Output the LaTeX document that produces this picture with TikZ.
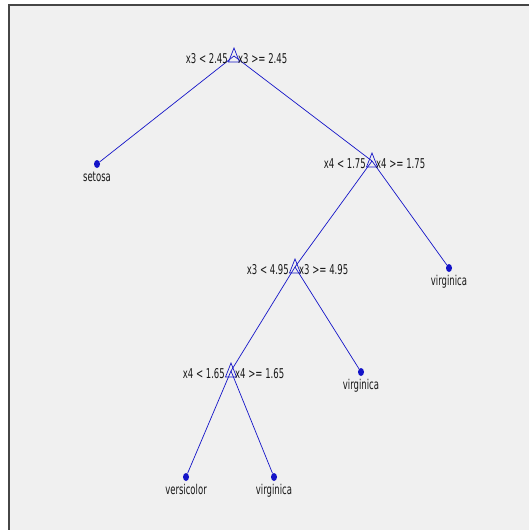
\documentclass[tikz,border=0pt]{standalone}
\usepackage{fontspec}
\setmainfont{DejaVu Sans}[FakeStretch=0.63]
\usetikzlibrary{calc,shapes.geometric}
\definecolor{edgeblue}{RGB}{20,20,200}
\definecolor{txt}{RGB}{25,25,25}
\definecolor{bgg}{RGB}{240,240,240}
\definecolor{framec}{RGB}{70,70,70}
\begin{document}
\begin{tikzpicture}[x=1pt,y=-1pt,
  lbl/.style={font=\fontsize{13.5}{15}\selectfont, text=txt, inner sep=0pt},
  edge/.style={draw=edgeblue, line width=0.7pt},
  leafdot/.style={ellipse, fill=edgeblue, draw=none, minimum width=6pt, minimum height=8pt, inner sep=0pt},
  tri/.style={draw=edgeblue, line width=0.7pt, line join=miter}]
\useasboundingbox (0,0) rectangle (529,530);
\fill[white] (0,0) rectangle (529,530);
\fill[bgg] (9,5) rectangle (529,530);
\draw[framec, line width=1.4pt] (9,530) -- (9,5) -- (529,5);
% internal nodes
\coordinate (n1) at (234,56);
\coordinate (n2) at (372,161);
\coordinate (n3) at (295,267);
\coordinate (n4) at (231,371);
% leaves
\node[leafdot] (l1) at (97,164) {};
\node[leafdot] (l2) at (449,268) {};
\node[leafdot] (l3) at (361,372) {};
\node[leafdot] (l4) at (186,477) {};
\node[leafdot] (l5) at (274,477) {};
% edges
\draw[edge] (n1) -- (l1);
\draw[edge] (n1) -- (n2);
\draw[edge] (n2) -- (n3);
\draw[edge] (n2) -- (l2);
\draw[edge] (n3) -- (n4);
\draw[edge] (n3) -- (l3);
\draw[edge] (n4) -- (l4);
\draw[edge] (n4) -- (l5);
% triangles
\foreach \n in {n1,n2,n3,n4}{
  \draw[tri] ($(\n)+(0,-8)$) -- ($(\n)+(5.5,6)$) -- ($(\n)+(-5.5,6)$) -- cycle;
}
% split labels
\node[lbl, anchor=east] (t1a) at ($(n1)+(-6,3)$) {x3 < 2.45};
\node[lbl, anchor=west] (t1b) at ($(n1)+(4,3)$) {x3 >= 2.45};
\node[lbl, anchor=east] (t2a) at ($(n2)+(-6,3)$) {x4 < 1.75};
\node[lbl, anchor=west] (t2b) at ($(n2)+(4,3)$) {x4 >= 1.75};
\node[lbl, anchor=east] (t3a) at ($(n3)+(-6,3)$) {x3 < 4.95};
\node[lbl, anchor=west] (t3b) at ($(n3)+(4,3)$) {x3 >= 4.95};
\node[lbl, anchor=east] (t4a) at ($(n4)+(-6,3)$) {x4 < 1.65};
\node[lbl, anchor=west] (t4b) at ($(n4)+(4,3)$) {x4 >= 1.65};
% leaf labels
\node[lbl, anchor=base] (c1) at ($(l1)+(0,17)$) {setosa};
\node[lbl, anchor=base] (c2) at ($(l2)+(0,17)$) {virginica};
\node[lbl, anchor=base] (c3) at ($(l3)+(0,17)$) {virginica};
\node[lbl, anchor=base] (c4) at ($(l4)+(0,17)$) {versicolor};
\node[lbl, anchor=base] (c5) at ($(l5)+(0,17)$) {virginica};
\end{tikzpicture}
\end{document}
